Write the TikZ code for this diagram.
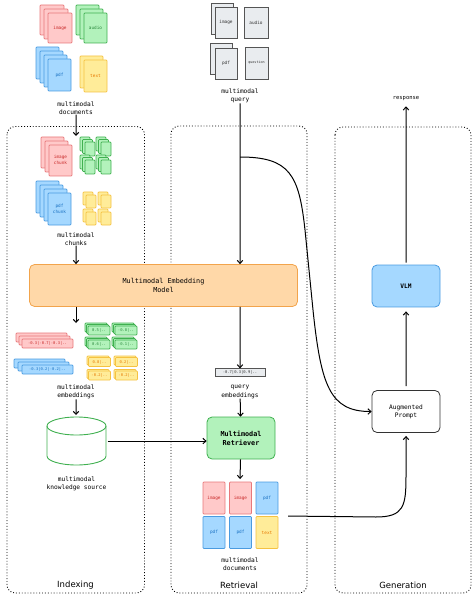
\documentclass[tikz,border=0pt]{standalone}
\usepackage{fontspec}
\setmonofont{DejaVu Sans Mono}
\setsansfont{DejaVu Sans}
\usepackage{tikz}
\usepackage{xcolor}
\usetikzlibrary{positioning,shapes,arrows.meta}

\definecolor{redfill}{HTML}{FFC9C9}
\definecolor{redline}{HTML}{E8787A}
\definecolor{redtext}{HTML}{C92A2A}
\definecolor{greenfill}{HTML}{B2F2BB}
\definecolor{greenline}{HTML}{40B050}
\definecolor{greentext}{HTML}{2B8A3E}
\definecolor{bluefill}{HTML}{A5D8FF}
\definecolor{blueline}{HTML}{4A9BE0}
\definecolor{bluetext}{HTML}{1971C2}
\definecolor{yellowfill}{HTML}{FFEC99}
\definecolor{yellowline}{HTML}{F5C242}
\definecolor{yellowtext}{HTML}{E67700}
\definecolor{orangefill}{HTML}{FFD8A8}
\definecolor{orangeline}{HTML}{F2A44C}
\definecolor{grayfill}{HTML}{E9ECEF}
\definecolor{grayline}{HTML}{555555}

\begin{document}
\begin{tikzpicture}[scale=0.3515]
\tikzstyle{every node}+=[inner sep=0pt, align=center, font=\ttfamily\fontsize{6.2}{8.2}\selectfont]
\tikzstyle{redpg}=[draw=redline, fill=redfill, line width=0.7pt, rounded corners=0.8pt]
\tikzstyle{greenpg}=[draw=greenline, fill=greenfill, line width=0.7pt, rounded corners=0.8pt]
\tikzstyle{bluepg}=[draw=blueline, fill=bluefill, line width=0.7pt, rounded corners=0.8pt]
\tikzstyle{yellowpg}=[draw=yellowline, fill=yellowfill, line width=0.7pt, rounded corners=0.8pt]
\tikzstyle{graypg}=[draw=grayline, fill=grayfill, line width=0.8pt]
\tikzstyle{pglabel}=[font=\ttfamily\fontsize{4.4}{5.4}\selectfont]
\tikzstyle{vec}=[font=\ttfamily\fontsize{3.8}{4.5}\selectfont]
\tikzstyle{bigbox}=[rounded corners=5pt, line width=0.8pt, minimum width=68pt, minimum height=42pt]
\tikzstyle{flow}=[-{Straight Barb[length=3pt,width=5.5pt]}, line width=1pt, black]
\tikzstyle{panel}=[dotted, line width=0.9pt, rounded corners=8pt]
\tikzstyle{paneltitle}=[font=\sffamily\fontsize{8.5}{10}\selectfont]
\useasboundingbox (0,0) rectangle (47.4,-59.6);
% panels
\draw [panel] (0.7,-12.65) rectangle (14.45,-59.3);
\draw [panel] (17.1,-12.6) rectangle (30.7,-59.3);
\draw [panel] (33.5,-12.7) rectangle (47.1,-59.3);
\node [paneltitle] (tindex) at (7.55,-58.5) {Indexing};
\node [paneltitle] (tretr) at (23.9,-58.5) {Retrieval};
\node [paneltitle] (tgen) at (40.3,-58.5) {Generation};
% multimodal documents
\draw [redpg] (4.0,-0.5) rectangle ++(2.4,-3.0);
\draw [redpg] (4.4,-0.9) rectangle ++(2.4,-3.0);
\draw [redpg] (4.8,-1.3) rectangle ++(2.4,-3.0);
\node [pglabel, text=redtext] at (6.0,-2.8) {image};
\draw [greenpg] (7.6,-0.5) rectangle ++(2.3,-3.0);
\draw [greenpg] (8.0,-0.9) rectangle ++(2.3,-3.0);
\draw [greenpg] (8.4,-1.3) rectangle ++(2.3,-3.0);
\node [pglabel, text=greentext] at (9.55,-2.8) {audio};
\draw [bluepg] (3.6,-4.7) rectangle ++(2.3,-3.2);
\draw [bluepg] (4.0,-5.1) rectangle ++(2.3,-3.2);
\draw [bluepg] (4.4,-5.5) rectangle ++(2.3,-3.2);
\draw [bluepg] (4.8,-5.9) rectangle ++(2.3,-3.2);
\node [pglabel, text=bluetext] at (5.95,-7.5) {pdf};
\draw [yellowpg] (8.0,-5.6) rectangle ++(2.3,-3.2);
\draw [yellowpg] (8.4,-6.0) rectangle ++(2.3,-3.2);
\node [pglabel, text=yellowtext] at (9.55,-7.6) {text};
\node (docs) at (7.6,-10.8) {multimodal\\documents};
\coordinate (chunktop) at (7.6,-13.6);
% chunks
\draw [redpg] (4.1,-13.7) rectangle ++(2.3,-3.1);
\draw [redpg] (4.5,-14.1) rectangle ++(2.3,-3.1);
\draw [redpg] (4.9,-14.5) rectangle ++(2.3,-3.1);
\node [pglabel, text=redtext] at (6.05,-16.0) {image\\chunk};
\foreach \cx/\cy in {8.0/-13.7, 9.6/-13.7, 8.0/-15.5, 9.6/-15.5}
  \foreach \d in {0,0.25,0.5}
    \draw [greenpg] (\cx+\d,\cy-\d) rectangle ++(1.0,-1.4);
\draw [bluepg] (3.6,-18.1) rectangle ++(2.3,-3.2);
\draw [bluepg] (4.0,-18.5) rectangle ++(2.3,-3.2);
\draw [bluepg] (4.4,-18.9) rectangle ++(2.3,-3.2);
\draw [bluepg] (4.8,-19.3) rectangle ++(2.3,-3.2);
\node [pglabel, text=bluetext] at (5.95,-20.9) {pdf\\chunk};
\foreach \cx/\cy in {8.3/-19.2, 9.8/-19.2, 8.3/-20.9, 9.8/-20.9}
  \foreach \d in {0,0.3}
    \draw [yellowpg] (\cx+\d,\cy-\d) rectangle ++(1.0,-1.3);
\node (chunks) at (7.6,-23.9) {multimodal\\chunks};
% embedding model
\node [bigbox, draw=orangeline, fill=orangefill, minimum width=268pt, font=\ttfamily\fontsize{6.8}{9}\selectfont] (embed) at (16.35,-28.55) {Multimodal Embedding\\Model};
% embeddings
\draw [redpg] (1.6,-33.3) rectangle ++(5.1,-0.9);
\draw [redpg] (1.9,-33.6) rectangle ++(5.1,-0.9);
\draw [redpg] (2.2,-33.9) rectangle ++(5.1,-0.9);
\node [vec, text=redtext] at (4.75,-34.35) {-0.3|-0.7|-0.3|..};
\draw [bluepg] (1.4,-35.9) rectangle ++(5.1,-0.9);
\draw [bluepg] (1.8,-36.2) rectangle ++(5.1,-0.9);
\draw [bluepg] (2.2,-36.5) rectangle ++(5.1,-0.9);
\node [vec, text=bluetext] at (4.75,-36.95) {-0.3|0.2|-0.2|..};
\foreach \cx/\cy/\v in {8.5/-32.3/0.5, 11.2/-32.3/-0.8, 8.5/-33.7/0.6, 11.2/-33.7/-0.1} {
  \foreach \d in {0,0.15,0.3}
    \draw [greenpg] (\cx+\d,\cy-\d) rectangle ++(2.2,-0.9);
  \node [vec, text=greentext] at (\cx+1.4,\cy-0.75) {\v|..};
}
\foreach \cx/\cy/\v in {8.7/-35.6/0.8, 11.4/-35.6/0.2, 8.7/-36.95/-0.2, 11.4/-36.95/-0.2} {
  \foreach \d in {0,0.15}
    \draw [yellowpg] (\cx+\d,\cy-\d) rectangle ++(2.2,-0.9);
  \node [vec, text=yellowtext] at (\cx+1.25,\cy-0.6) {\v|..};
}
\node (embs) at (7.6,-39.2) {multimodal\\embeddings};
\coordinate (embtop) at (7.6,-32.3);
\coordinate (kbtop) at (7.6,-41.5);
% knowledge source
\draw [greenline, line width=0.9pt, fill=white] (4.7,-42.6) -- (4.7,-45.6) arc (180:360:2.95 and 0.9) -- (10.6,-42.6);
\draw [greenline, line width=0.9pt] (7.65,-42.6) ellipse (2.95 and 0.9);
\node [minimum width=62pt, minimum height=48pt] (kb) at (7.65,-44.1) {};
\node (kbtxt) at (7.65,-48.35) {multimodal\\knowledge source};
% multimodal query
\draw [graypg] (21.1,-0.3) rectangle ++(2.2,-3.1);
\draw [graypg] (21.5,-0.7) rectangle ++(2.2,-3.1);
\node [pglabel, text=black!80] at (22.6,-2.25) {image};
\draw [graypg] (24.4,-0.7) rectangle ++(2.4,-3.1);
\node [pglabel, text=black!80] at (25.6,-2.25) {audio};
\draw [graypg] (21.0,-4.3) rectangle ++(2.2,-3.1);
\draw [graypg] (21.5,-4.8) rectangle ++(2.2,-3.1);
\node [pglabel, text=black!80] at (22.6,-6.35) {pdf};
\draw [graypg] (24.5,-4.7) rectangle ++(2.3,-3.2);
\node [pglabel, text=black!80, font=\ttfamily\fontsize{3.4}{4}\selectfont] at (25.65,-6.3) {question};
\node (query) at (24.0,-9.6) {multimodal\\query};
\coordinate (split) at (24.0,-15.7);
% retrieval
\node [graypg, minimum width=50pt, minimum height=7.5pt, vec, text=black!80] (qemb) at (24.0,-37.25) {-0.7|0.3|0.9|..};
\node (qembtxt) at (24.0,-39.2) {query\\embeddings};
\node [bigbox, draw=greenline, fill=greenfill, font=\ttfamily\bfseries\fontsize{6.8}{9}\selectfont] (retr) at (24.1,-43.8) {Multimodal\\Retriever};
\coordinate (restop) at (24.0,-47.9);
\node [redpg, pglabel, text=redtext, minimum width=22pt, minimum height=32pt] (res1) at (21.4,-49.8) {image};
\node [redpg, pglabel, text=redtext, minimum width=22pt, minimum height=32pt] (res2) at (24.05,-49.8) {image};
\node [bluepg, pglabel, text=bluetext, minimum width=22pt, minimum height=32pt] (res3) at (26.7,-49.8) {pdf};
\node [bluepg, pglabel, text=bluetext, minimum width=22pt, minimum height=32pt] (res4) at (21.4,-53.25) {pdf};
\node [bluepg, pglabel, text=bluetext, minimum width=22pt, minimum height=32pt] (res5) at (24.05,-53.25) {pdf};
\node [yellowpg, pglabel, text=yellowtext, minimum width=22pt, minimum height=32pt] (res6) at (26.7,-53.25) {text};
\node (resdocs) at (24.0,-56.45) {multimodal\\documents};
\coordinate (resout) at (28.8,-51.6);
% generation
\node [bigbox, draw=black!80, fill=white] (aug) at (40.6,-41.15) {Augmented\\Prompt};
\node [bigbox, draw=blueline, fill=bluefill, font=\ttfamily\bfseries\fontsize{6.2}{8}\selectfont] (vlm) at (40.6,-28.6) {VLM};
\node [font=\ttfamily\fontsize{5.5}{7}\selectfont] (resp) at (40.6,-9.9) {response};
% connectors
\draw [flow] (docs) -- (chunktop);
\draw [flow] (chunks) -- (chunks |- embed.north);
\draw [flow] (embed.south -| chunks) -- (embtop);
\draw [flow] (embs) -- (kbtop);
\draw [flow] (kb.east) -- (kb.east -| retr.west);
\draw [flow] (query) -- (query |- embed.north);
\draw [flow] (split) .. controls (29,-15.7) and (29.9,-17.5) .. (30.5,-23) -- (31.3,-31) .. controls (32.1,-38.6) and (33,-41.15) .. (aug.west);
\draw [flow] (embed.south -| qemb) -- (qemb);
\draw [flow] (qembtxt) -- (retr);
\draw [flow] (retr) -- (restop);
\draw [flow, shorten >=3pt] (resout) -- (37.6,-51.7) .. controls (40.4,-51.7) and (40.6,-50.6) .. (40.6,-47.6) -- (aug.south);
\draw [flow, shorten <=4pt, shorten >=4pt] (aug) -- (vlm);
\draw [flow, shorten <=2pt, shorten >=5pt] (vlm) -- (resp);
\end{tikzpicture}
\end{document}
